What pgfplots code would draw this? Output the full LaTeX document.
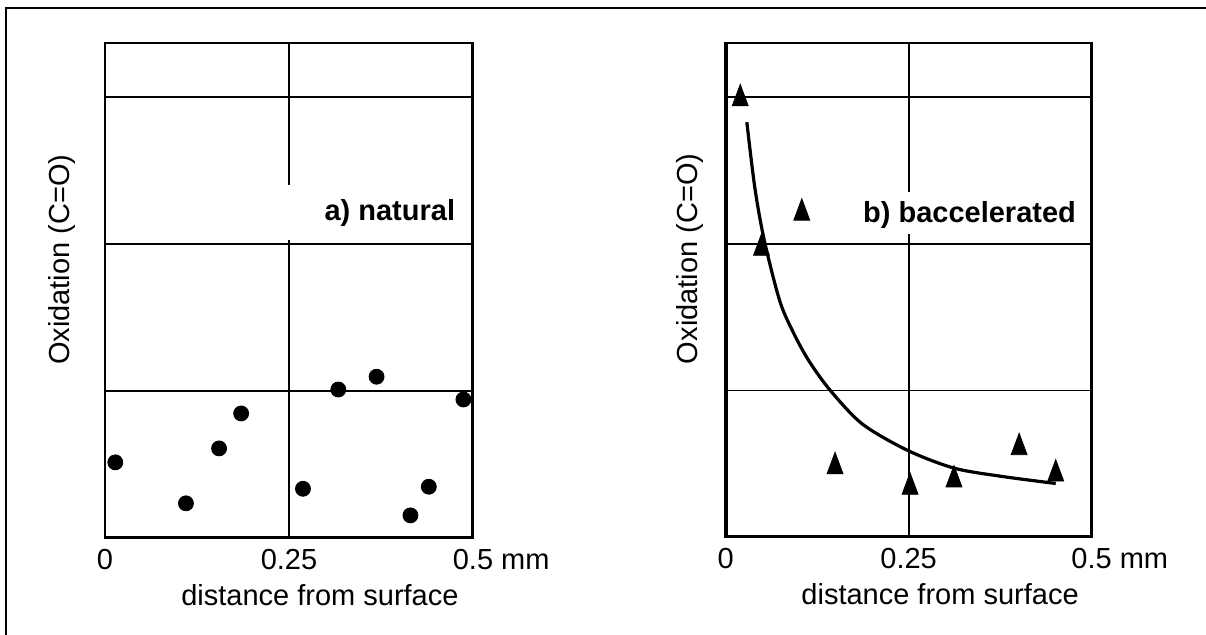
\documentclass[border=0pt]{standalone}
\usepackage{fontspec}
\setmainfont{Liberation Sans}
\usepackage{pgfplots}
\pgfplotsset{compat=1.18}
\newcommand\lbl{\fontsize{14.5bp}{17bp}\selectfont}

\pgfplotsset{
  panel/.style={
    scale only axis,
    width=184bp, height=247.5bp,
    xmin=0, xmax=0.5, ymin=0, ymax=3.37,
    xtick={0,0.25,0.5},
    xticklabels={0,0.25,0.5\rlap{ mm}},
    ytick={1,2,3}, yticklabels={},
    major tick length=0pt,
    grid=major,
    major grid style={black, line width=0.9bp},
    axis line style={black, line width=1.2bp},
    /pgf/number format/assume math mode=true,
    every tick label/.append style={font=\lbl},
    xticklabel style={yshift=-2bp},
    label style={font=\lbl},
    xlabel={distance from surface},
    ylabel={Oxidation (C=O)},
  },
}

\begin{document}
\begin{tikzpicture}
\useasboundingbox (0,0) rectangle (603bp,317.5bp);
\draw[line width=1bp] (3bp,-5bp) -- (3bp,313.5bp) -- (610bp,313.5bp);

% a) natural
\begin{axis}[panel,
    at={(52.5bp,48.5bp)}, anchor=south west,
    xlabel style={at={(axis description cs:0.584,-0.115)}, anchor=center},
    ylabel style={at={(axis description cs:-0.117,0.562)}, anchor=center}]
\fill[white] (axis cs:0.235,2.03) rectangle (axis cs:0.49,2.40);
\addplot[only marks, mark=*, mark size=3.75bp, black] coordinates {
  (0.014,0.515) (0.110,0.236) (0.155,0.610) (0.185,0.848) (0.269,0.335)
  (0.317,1.011) (0.369,1.098) (0.415,0.154) (0.440,0.349) (0.487,0.943)
};
\node[font=\lbl\bfseries, anchor=center] at (axis cs:0.387,2.21) {a) natural};
\draw[line width=2bp] (rel axis cs:1,0) -- (rel axis cs:1,1);
\draw[line width=2bp] (rel axis cs:0,0) -- (rel axis cs:1,0);
\end{axis}

% b) accelerated
\begin{axis}[panel,
    at={(362.8bp,49bp)}, anchor=south west, width=183bp, height=247bp,
    xlabel style={at={(axis description cs:0.586,-0.115)}, anchor=center},
    ylabel style={at={(axis description cs:-0.097,0.563)}, anchor=center},
    legend style={at={(axis cs:0.0866,2.21)}, anchor=west, draw=none, fill=white,
      inner xsep=2bp, inner ysep=2.5bp, font=\lbl\bfseries},
    legend image code/.code={%
      \draw[mark repeat=2, mark phase=2, #1] plot coordinates {(-4bp,0bp) (0bp,0bp) (4bp,0bp)};
      \path (-4bp,0bp) (28.5bp,0bp);}]
\addplot[black, line width=1.6bp, smooth, tension=0.5, forget plot] coordinates {
  (0.029,2.83) (0.040,2.38) (0.053,2.02) (0.074,1.61) (0.093,1.39) (0.114,1.20)
  (0.143,1.00) (0.187,0.77) (0.249,0.59) (0.312,0.47) (0.375,0.415) (0.451,0.365)
};
\addplot[only marks, mark=triangle*, mark size=4.6bp, black,
    mark options={yscale=1.55}] coordinates {
  (0.020,2.99) (0.049,1.97) (0.1495,0.48) (0.252,0.34) (0.312,0.39)
  (0.401,0.61) (0.451,0.43)
};
\addlegendentry{b) baccelerated}
\draw[line width=2.4bp] (rel axis cs:0,0) -- (rel axis cs:0,1);
\draw[line width=2bp] (rel axis cs:0,0) -- (rel axis cs:1,0);
\end{axis}
\end{tikzpicture}
\end{document}
